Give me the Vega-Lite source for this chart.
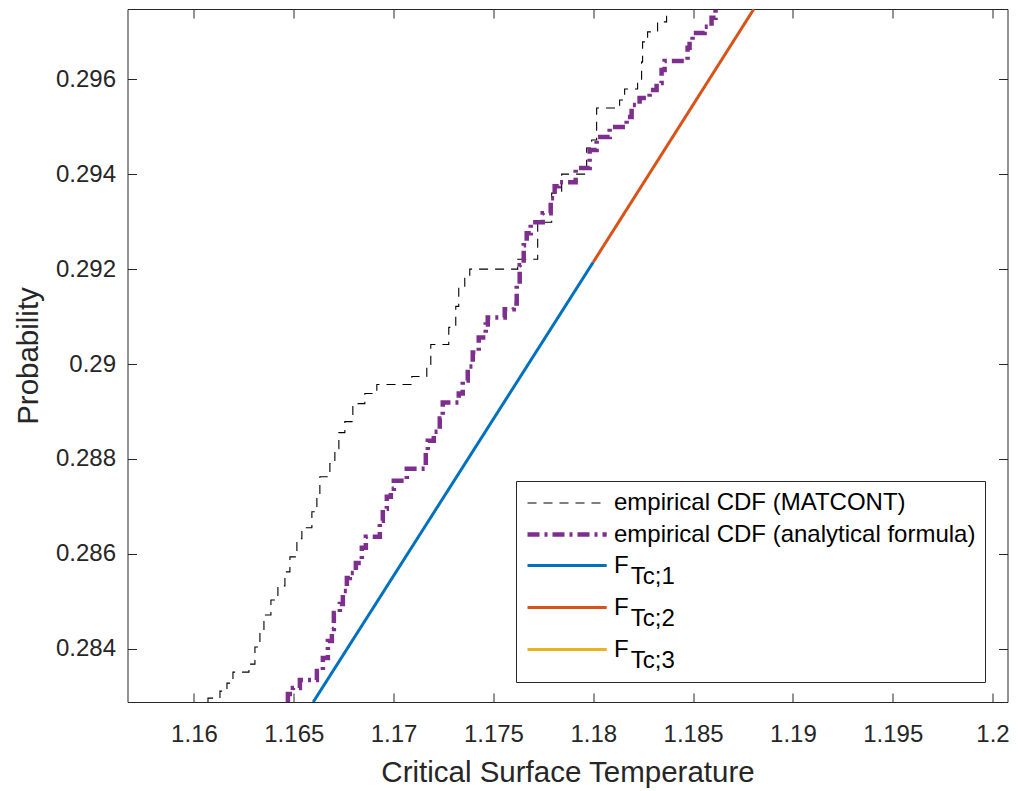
{
  "$schema": "https://vega.github.io/schema/vega-lite/v6.json",
  "width": 880,
  "height": 693,
  "autosize": {"type": "none"},
  "padding": {"left": 127.5, "top": 9, "right": 11.5, "bottom": 89},
  "background": "white",
  "config": {
    "view": {"stroke": null},
    "font": "Liberation Sans",
    "axis": {
      "domainColor": "#262626",
      "tickColor": "#262626",
      "labelColor": "#262626",
      "titleColor": "#262626",
      "labelFont": "Liberation Sans",
      "titleFont": "Liberation Sans",
      "labelFontSize": 24,
      "titleFontSize": 29.5,
      "titleFontWeight": "normal",
      "tickSize": -9,
      "grid": false,
      "domainWidth": 1,
      "tickWidth": 1
    }
  },
  "datasets": {
    "ecdf": [
      {"s": "M", "i": 0, "x": 1.160701, "y": 0.28288},
      {"s": "M", "i": 1, "x": 1.160701, "y": 0.282962},
      {"s": "M", "i": 2, "x": 1.161301, "y": 0.283109},
      {"s": "M", "i": 3, "x": 1.161652, "y": 0.283278},
      {"s": "M", "i": 4, "x": 1.161952, "y": 0.28351},
      {"s": "M", "i": 5, "x": 1.162753, "y": 0.283679},
      {"s": "M", "i": 6, "x": 1.163053, "y": 0.284038},
      {"s": "M", "i": 7, "x": 1.163303, "y": 0.284355},
      {"s": "M", "i": 8, "x": 1.163504, "y": 0.284714},
      {"s": "M", "i": 9, "x": 1.163854, "y": 0.28503},
      {"s": "M", "i": 10, "x": 1.164204, "y": 0.285326},
      {"s": "M", "i": 11, "x": 1.164555, "y": 0.285621},
      {"s": "M", "i": 12, "x": 1.164805, "y": 0.285938},
      {"s": "M", "i": 13, "x": 1.165155, "y": 0.286318},
      {"s": "M", "i": 14, "x": 1.165405, "y": 0.28655},
      {"s": "M", "i": 15, "x": 1.165906, "y": 0.286888},
      {"s": "M", "i": 16, "x": 1.166156, "y": 0.287225},
      {"s": "M", "i": 17, "x": 1.166306, "y": 0.287626},
      {"s": "M", "i": 18, "x": 1.166807, "y": 0.287901},
      {"s": "M", "i": 19, "x": 1.167057, "y": 0.288217},
      {"s": "M", "i": 20, "x": 1.167257, "y": 0.288555},
      {"s": "M", "i": 21, "x": 1.167558, "y": 0.288787},
      {"s": "M", "i": 22, "x": 1.167958, "y": 0.289167},
      {"s": "M", "i": 23, "x": 1.168559, "y": 0.289378},
      {"s": "M", "i": 24, "x": 1.169159, "y": 0.289568},
      {"s": "M", "i": 25, "x": 1.170911, "y": 0.289737},
      {"s": "M", "i": 26, "x": 1.171662, "y": 0.28999},
      {"s": "M", "i": 27, "x": 1.171862, "y": 0.290413},
      {"s": "M", "i": 28, "x": 1.172763, "y": 0.290772},
      {"s": "M", "i": 29, "x": 1.173113, "y": 0.291215},
      {"s": "M", "i": 30, "x": 1.173263, "y": 0.291595},
      {"s": "M", "i": 31, "x": 1.173564, "y": 0.291806},
      {"s": "M", "i": 32, "x": 1.173814, "y": 0.292},
      {"s": "M", "i": 33, "x": 1.176216, "y": 0.292207},
      {"s": "M", "i": 34, "x": 1.177217, "y": 0.292988},
      {"s": "M", "i": 35, "x": 1.177918, "y": 0.2936},
      {"s": "M", "i": 36, "x": 1.178418, "y": 0.294001},
      {"s": "M", "i": 37, "x": 1.17967, "y": 0.29455},
      {"s": "M", "i": 38, "x": 1.17992, "y": 0.294719},
      {"s": "M", "i": 39, "x": 1.18017, "y": 0.295394},
      {"s": "M", "i": 40, "x": 1.181321, "y": 0.295563},
      {"s": "M", "i": 41, "x": 1.181572, "y": 0.295795},
      {"s": "M", "i": 42, "x": 1.182222, "y": 0.295985},
      {"s": "M", "i": 43, "x": 1.182422, "y": 0.296365},
      {"s": "M", "i": 44, "x": 1.182472, "y": 0.296787},
      {"s": "M", "i": 45, "x": 1.182723, "y": 0.296998},
      {"s": "M", "i": 46, "x": 1.183223, "y": 0.297209},
      {"s": "M", "i": 47, "x": 1.183674, "y": 0.2976},
      {"s": "A", "i": 0, "x": 1.164705, "y": 0.28288},
      {"s": "A", "i": 1, "x": 1.164705, "y": 0.283046},
      {"s": "A", "i": 2, "x": 1.164955, "y": 0.283173},
      {"s": "A", "i": 3, "x": 1.165305, "y": 0.283341},
      {"s": "A", "i": 4, "x": 1.166156, "y": 0.283532},
      {"s": "A", "i": 5, "x": 1.166456, "y": 0.283806},
      {"s": "A", "i": 6, "x": 1.166707, "y": 0.284165},
      {"s": "A", "i": 7, "x": 1.166907, "y": 0.284418},
      {"s": "A", "i": 8, "x": 1.167007, "y": 0.284756},
      {"s": "A", "i": 9, "x": 1.167307, "y": 0.284946},
      {"s": "A", "i": 10, "x": 1.167457, "y": 0.28522},
      {"s": "A", "i": 11, "x": 1.167658, "y": 0.285495},
      {"s": "A", "i": 12, "x": 1.167808, "y": 0.2856},
      {"s": "A", "i": 13, "x": 1.168108, "y": 0.285811},
      {"s": "A", "i": 14, "x": 1.168408, "y": 0.286128},
      {"s": "A", "i": 15, "x": 1.168609, "y": 0.28636},
      {"s": "A", "i": 16, "x": 1.169309, "y": 0.286698},
      {"s": "A", "i": 17, "x": 1.169459, "y": 0.286951},
      {"s": "A", "i": 18, "x": 1.16966, "y": 0.287204},
      {"s": "A", "i": 19, "x": 1.16986, "y": 0.287373},
      {"s": "A", "i": 20, "x": 1.17001, "y": 0.287542},
      {"s": "A", "i": 21, "x": 1.170661, "y": 0.287795},
      {"s": "A", "i": 22, "x": 1.171612, "y": 0.288175},
      {"s": "A", "i": 23, "x": 1.171712, "y": 0.288386},
      {"s": "A", "i": 24, "x": 1.172012, "y": 0.288576},
      {"s": "A", "i": 25, "x": 1.172312, "y": 0.288851},
      {"s": "A", "i": 26, "x": 1.172462, "y": 0.289189},
      {"s": "A", "i": 27, "x": 1.173263, "y": 0.289378},
      {"s": "A", "i": 28, "x": 1.173463, "y": 0.289653},
      {"s": "A", "i": 29, "x": 1.173714, "y": 0.289948},
      {"s": "A", "i": 30, "x": 1.173964, "y": 0.290244},
      {"s": "A", "i": 31, "x": 1.174264, "y": 0.29056},
      {"s": "A", "i": 32, "x": 1.174615, "y": 0.290835},
      {"s": "A", "i": 33, "x": 1.174715, "y": 0.290983},
      {"s": "A", "i": 34, "x": 1.175566, "y": 0.291152},
      {"s": "A", "i": 35, "x": 1.176016, "y": 0.291278},
      {"s": "A", "i": 36, "x": 1.176166, "y": 0.291658},
      {"s": "A", "i": 37, "x": 1.176316, "y": 0.29208},
      {"s": "A", "i": 38, "x": 1.176517, "y": 0.292502},
      {"s": "A", "i": 39, "x": 1.176667, "y": 0.292756},
      {"s": "A", "i": 40, "x": 1.176867, "y": 0.292988},
      {"s": "A", "i": 41, "x": 1.177467, "y": 0.293178},
      {"s": "A", "i": 42, "x": 1.177868, "y": 0.293494},
      {"s": "A", "i": 43, "x": 1.178068, "y": 0.293748},
      {"s": "A", "i": 44, "x": 1.178268, "y": 0.293832},
      {"s": "A", "i": 45, "x": 1.179119, "y": 0.294128},
      {"s": "A", "i": 46, "x": 1.17982, "y": 0.294508},
      {"s": "A", "i": 47, "x": 1.18017, "y": 0.294782},
      {"s": "A", "i": 48, "x": 1.180821, "y": 0.294993},
      {"s": "A", "i": 49, "x": 1.181672, "y": 0.295204},
      {"s": "A", "i": 50, "x": 1.181922, "y": 0.295458},
      {"s": "A", "i": 51, "x": 1.182322, "y": 0.295605},
      {"s": "A", "i": 52, "x": 1.182823, "y": 0.295774},
      {"s": "A", "i": 53, "x": 1.183173, "y": 0.295922},
      {"s": "A", "i": 54, "x": 1.183423, "y": 0.296196},
      {"s": "A", "i": 55, "x": 1.183574, "y": 0.296386},
      {"s": "A", "i": 56, "x": 1.184725, "y": 0.296661},
      {"s": "A", "i": 57, "x": 1.184825, "y": 0.29683},
      {"s": "A", "i": 58, "x": 1.184975, "y": 0.296977},
      {"s": "A", "i": 59, "x": 1.185576, "y": 0.297104},
      {"s": "A", "i": 60, "x": 1.185926, "y": 0.297294},
      {"s": "A", "i": 61, "x": 1.186126, "y": 0.2976}
    ],
    "fit": [
      {"s": "F1", "i": 0, "x": 1.165975, "y": 0.28288},
      {"s": "F1", "i": 1, "x": 1.18, "y": 0.292147},
      {"s": "F2", "i": 0, "x": 1.18, "y": 0.292147},
      {"s": "F2", "i": 1, "x": 1.188045, "y": 0.29748}
    ]
  },
  "layer": [
    {
      "data": {"name": "ecdf"},
      "transform": [{"filter": "datum.s == 'M'"}],
      "mark": {"type": "line", "interpolate": "step-after", "clip": true},
      "encoding": {
        "x": {
          "field": "x", "type": "quantitative",
          "scale": {"domain": [1.15667, 1.20075], "nice": false, "zero": false},
          "axis": {
            "orient": "bottom",
            "title": "Critical Surface Temperature",
            "values": [1.16, 1.165, 1.17, 1.175, 1.18, 1.185, 1.19, 1.195, 1.2],
            "format": "~g",
            "labelPadding": 29,
            "labelBaseline": "top",
            "titlePadding": 12
          }
        },
        "y": {
          "field": "y", "type": "quantitative",
          "scale": {"domain": [0.28288, 0.29748], "nice": false, "zero": false},
          "axis": {
            "orient": "left",
            "title": "Probability",
            "values": [0.284, 0.286, 0.288, 0.29, 0.292, 0.294, 0.296],
            "format": "~g",
            "labelPadding": 21,
            "titlePadding": 12
          }
        },
        "order": {"field": "i", "type": "quantitative"},
        "color": {
          "field": "s", "type": "nominal",
          "scale": {"domain": ["M", "A", "F1", "F2", "F3"], "range": ["#000000", "#7E2F8E", "#0072BD", "#D95319", "#EDB120"]},
          "legend": {
            "orient": "none",
            "legendX": 388.5,
            "legendY": 472,
            "title": null,
            "fillColor": "white",
            "strokeColor": "#262626",
            "padding": 9,
            "cornerRadius": 0,
            "symbolType": "M-1,0H5.6",
            "symbolSize": 576,
            "labelOffset": 60,
            "labelFont": "Liberation Sans",
            "labelFontSize": 24,
            "labelColor": "#000000",
            "labelLimit": 500,
            "rowPadding": 5,
            "labelExpr": "datum.value == 'M' ? 'empirical CDF (MATCONT)' : datum.value == 'A' ? 'empirical CDF (analytical formula)' : ['F', '\u200b\u2002\u2009Tc;' + substring(datum.value, 1)]",
            "encode": {"labels": {"update": {"lineHeight": {"value": 11}}}}
          }
        },
        "strokeDash": {
          "field": "s", "type": "nominal",
          "scale": {"domain": ["M", "A", "F1", "F2", "F3"], "range": [[9, 7], [12, 5, 3, 5], [1, 0], [1, 0], [1, 0]]}
        },
        "strokeWidth": {
          "field": "s", "type": "nominal",
          "scale": {"type": "ordinal", "domain": ["M", "A", "F1", "F2", "F3"], "range": [1.1, 4.5, 3, 3, 3]}
        }
      }
    },
    {
      "data": {"name": "ecdf"},
      "transform": [{"filter": "datum.s == 'A'"}],
      "mark": {"type": "line", "interpolate": "step-after", "clip": true},
      "encoding": {
        "x": {
          "field": "x", "type": "quantitative",
          "scale": {"domain": [1.15667, 1.20075], "nice": false, "zero": false},
          "axis": {"orient": "top", "title": null, "labels": false, "values": [1.16, 1.165, 1.17, 1.175, 1.18, 1.185, 1.19, 1.195, 1.2]}
        },
        "y": {
          "field": "y", "type": "quantitative",
          "scale": {"domain": [0.28288, 0.29748], "nice": false, "zero": false},
          "axis": {"orient": "right", "title": null, "labels": false, "values": [0.284, 0.286, 0.288, 0.29, 0.292, 0.294, 0.296]}
        },
        "order": {"field": "i", "type": "quantitative"},
        "color": {
          "field": "s", "type": "nominal",
          "scale": {"domain": ["M", "A", "F1", "F2", "F3"], "range": ["#000000", "#7E2F8E", "#0072BD", "#D95319", "#EDB120"]}
        },
        "strokeDash": {
          "field": "s", "type": "nominal",
          "scale": {"domain": ["M", "A", "F1", "F2", "F3"], "range": [[9, 7], [12, 5, 3, 5], [1, 0], [1, 0], [1, 0]]}
        },
        "strokeWidth": {
          "field": "s", "type": "nominal",
          "scale": {"type": "ordinal", "domain": ["M", "A", "F1", "F2", "F3"], "range": [1.1, 4.5, 3, 3, 3]}
        }
      }
    },
    {
      "data": {"name": "fit"},
      "mark": {"type": "line", "clip": true},
      "encoding": {
        "x": {
          "field": "x", "type": "quantitative", "axis": null,
          "scale": {"domain": [1.15667, 1.20075], "nice": false, "zero": false}
        },
        "y": {
          "field": "y", "type": "quantitative", "axis": null,
          "scale": {"domain": [0.28288, 0.29748], "nice": false, "zero": false}
        },
        "order": {"field": "i", "type": "quantitative"},
        "color": {
          "field": "s", "type": "nominal",
          "scale": {"domain": ["M", "A", "F1", "F2", "F3"], "range": ["#000000", "#7E2F8E", "#0072BD", "#D95319", "#EDB120"]}
        },
        "strokeDash": {
          "field": "s", "type": "nominal",
          "scale": {"domain": ["M", "A", "F1", "F2", "F3"], "range": [[9, 7], [12, 5, 3, 5], [1, 0], [1, 0], [1, 0]]}
        },
        "strokeWidth": {
          "field": "s", "type": "nominal",
          "scale": {"type": "ordinal", "domain": ["M", "A", "F1", "F2", "F3"], "range": [1.1, 4.5, 3, 3, 3]}
        }
      }
    }
  ],
  "resolve": {"axis": {"x": "independent", "y": "independent"}}
}
